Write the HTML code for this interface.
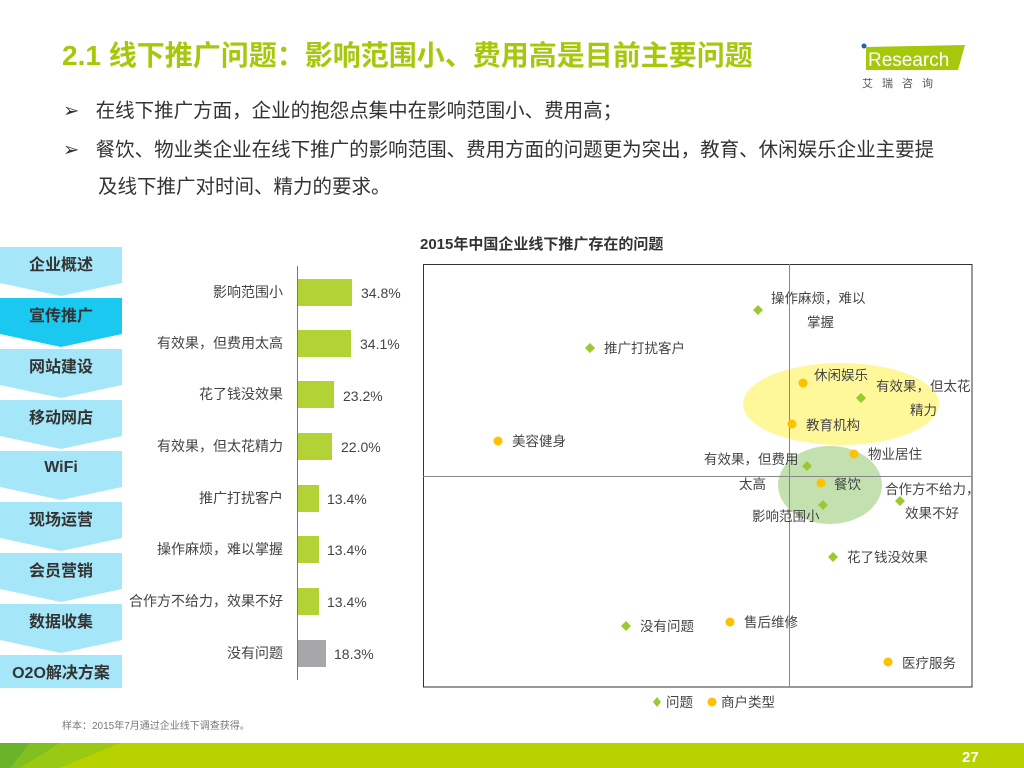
<!DOCTYPE html>
<html><head><meta charset="utf-8"><style>
body{margin:0;width:1024px;height:768px;overflow:hidden;background:#fff;font-family:"Liberation Sans","Noto Sans CJK SC",sans-serif;position:relative}
.t{position:absolute;white-space:nowrap}
</style></head><body>
<div class="t" style="left:62px;top:34px;font-size:28px;font-weight:bold;color:#a6c80a">2.1 线下推广问题：影响范围小、费用高是目前主要问题</div>
<div class="t" style="left:63px;top:94px;font-size:19.5px;color:#333">➢&nbsp;&nbsp;&nbsp;在线下推广方面，企业的抱怨点集中在影响范围小、费用高；</div>
<div class="t" style="left:63px;top:133px;font-size:19.5px;color:#333">➢&nbsp;&nbsp;&nbsp;餐饮、物业类企业在线下推广的影响范围、费用方面的问题更为突出，教育、休闲娱乐企业主要提</div>
<div class="t" style="left:98px;top:170px;font-size:19.5px;color:#333">及线下推广对时间、精力的要求。</div>
<svg width="1024" height="768" style="position:absolute;left:0;top:0">
<g font-family="Liberation Sans,Noto Sans CJK SC,sans-serif">
<polygon points="866,47 965,45 958,70 866,70" fill="#a6c80a"/>
<circle cx="864" cy="46" r="2.5" fill="#2060b0"/>
<text x="868" y="66" font-size="19" fill="#fff">Research</text>
<text x="862" y="87" font-size="11" fill="#555" letter-spacing="9">艾瑞咨询</text>
<g font-size="16" font-weight="bold" fill="#333" text-anchor="middle">
<polygon points="0,247 122,247 122,283 61,296 0,283" fill="#a5e7f8"/><text x="61" y="270">企业概述</text>
<polygon points="0,298 122,298 122,334 61,347 0,334" fill="#1ac8f0"/><text x="61" y="321">宣传推广</text>
<polygon points="0,349 122,349 122,385 61,398 0,385" fill="#a5e7f8"/><text x="61" y="372">网站建设</text>
<polygon points="0,400 122,400 122,436 61,449 0,436" fill="#a5e7f8"/><text x="61" y="423">移动网店</text>
<polygon points="0,451 122,451 122,487 61,500 0,487" fill="#a5e7f8"/><text x="61" y="472">WiFi</text>
<polygon points="0,502 122,502 122,538 61,551 0,538" fill="#a5e7f8"/><text x="61" y="525">现场运营</text>
<polygon points="0,553 122,553 122,589 61,602 0,589" fill="#a5e7f8"/><text x="61" y="576">会员营销</text>
<polygon points="0,604 122,604 122,640 61,653 0,640" fill="#a5e7f8"/><text x="61" y="627">数据收集</text>
<polygon points="0,655 122,655 122,688 0,688" fill="#a5e7f8"/><text x="61" y="678">O2O解决方案</text>
</g>
<line x1="297.5" y1="266" x2="297.5" y2="680" stroke="#777" stroke-width="1"/>
<g font-size="14" fill="#444">
<g text-anchor="end">
<text x="283" y="297">影响范围小</text><text x="283" y="348">有效果，但费用太高</text><text x="283" y="399">花了钱没效果</text><text x="283" y="451">有效果，但太花精力</text><text x="283" y="503">推广打扰客户</text><text x="283" y="554">操作麻烦，难以掌握</text><text x="283" y="606">合作方不给力，效果不好</text><text x="283" y="658">没有问题</text>
</g>
<rect x="298" y="279" width="54" height="27" fill="#b2d235"/><text x="361" y="298">34.8%</text>
<rect x="298" y="330" width="53" height="27" fill="#b2d235"/><text x="360" y="349">34.1%</text>
<rect x="298" y="381" width="36" height="27" fill="#b2d235"/><text x="343" y="401">23.2%</text>
<rect x="298" y="433" width="34" height="27" fill="#b2d235"/><text x="341" y="452">22.0%</text>
<rect x="298" y="485" width="21" height="27" fill="#b2d235"/><text x="327" y="504">13.4%</text>
<rect x="298" y="536" width="21" height="27" fill="#b2d235"/><text x="327" y="555">13.4%</text>
<rect x="298" y="588" width="21" height="27" fill="#b2d235"/><text x="327" y="607">13.4%</text>
<rect x="298" y="640" width="28" height="27" fill="#a7a6ab"/><text x="334" y="659">18.3%</text>
</g>
<text x="420" y="249" font-size="15" font-weight="bold" fill="#333">2015年中国企业线下推广存在的问题</text>
<rect x="423.5" y="264.5" width="548.5" height="422.5" fill="none" stroke="#333" stroke-width="1"/>
<ellipse cx="841" cy="404" rx="98" ry="41" fill="#fff78a" opacity="0.85"/>
<ellipse cx="830" cy="485" rx="52" ry="39" fill="#b8dca0" opacity="0.85"/>
<line x1="789.5" y1="264" x2="789.5" y2="687" stroke="#888" stroke-width="1"/>
<line x1="423" y1="476.5" x2="972" y2="476.5" stroke="#888" stroke-width="1"/>
<g fill="#9cc832">
<polygon points="758,305 763,310 758,315 753,310"/><polygon points="861,393 866,398 861,403 856,398"/>
<polygon points="807,461 812,466 807,471 802,466"/><polygon points="823,500 828,505 823,510 818,505"/>
<polygon points="900,496 905,501 900,506 895,501"/><polygon points="833,552 838,557 833,562 828,557"/>
<polygon points="590,343 595,348 590,353 585,348"/><polygon points="626,621 631,626 626,631 621,626"/>
<polygon points="657,697 661,702 657,707 653,702"/>
</g>
<g fill="#ffc000">
<circle cx="803" cy="383" r="4.5"/><circle cx="792" cy="424" r="4.5"/><circle cx="854" cy="454" r="4.5"/><circle cx="821" cy="483" r="4.5"/>
<circle cx="498" cy="441" r="4.5"/><circle cx="730" cy="622" r="4.5"/><circle cx="888" cy="662" r="4.5"/><circle cx="712" cy="702" r="4.5"/>
</g>
<g font-size="13.5" fill="#444">
<text x="771" y="303">操作麻烦，难以</text><text x="807" y="327">掌握</text>
<text x="604" y="353">推广打扰客户</text>
<text x="814" y="380">休闲娱乐</text>
<text x="876" y="391">有效果，但太花</text><text x="910" y="415">精力</text>
<text x="806" y="430">教育机构</text>
<text x="512" y="446">美容健身</text>
<text x="868" y="459">物业居住</text>
<text x="704" y="464">有效果，但费用</text><text x="739" y="489">太高</text>
<text x="834" y="489">餐饮</text>
<text x="885" y="494">合作方不给力，</text><text x="905" y="518">效果不好</text>
<text x="752" y="521">影响范围小</text>
<text x="847" y="562">花了钱没效果</text>
<text x="640" y="631">没有问题</text>
<text x="744" y="627">售后维修</text>
<text x="902" y="668">医疗服务</text>
<text x="666" y="707">问题</text><text x="721" y="707">商户类型</text>
</g>
<text x="62" y="729" font-size="10" fill="#777">样本：2015年7月通过企业线下调查获得。</text>
<rect x="0" y="743" width="1024" height="25" fill="#b8d200"/>
<polygon points="0,743 60,743 20,768 0,768" fill="#6ab42c"/>
<polygon points="30,743 120,743 60,768 10,768" fill="#8cc41a" opacity="0.7"/>
<text x="962" y="762" font-size="15" font-weight="bold" fill="#fff">27</text>
</g>
</svg>
</body></html>
